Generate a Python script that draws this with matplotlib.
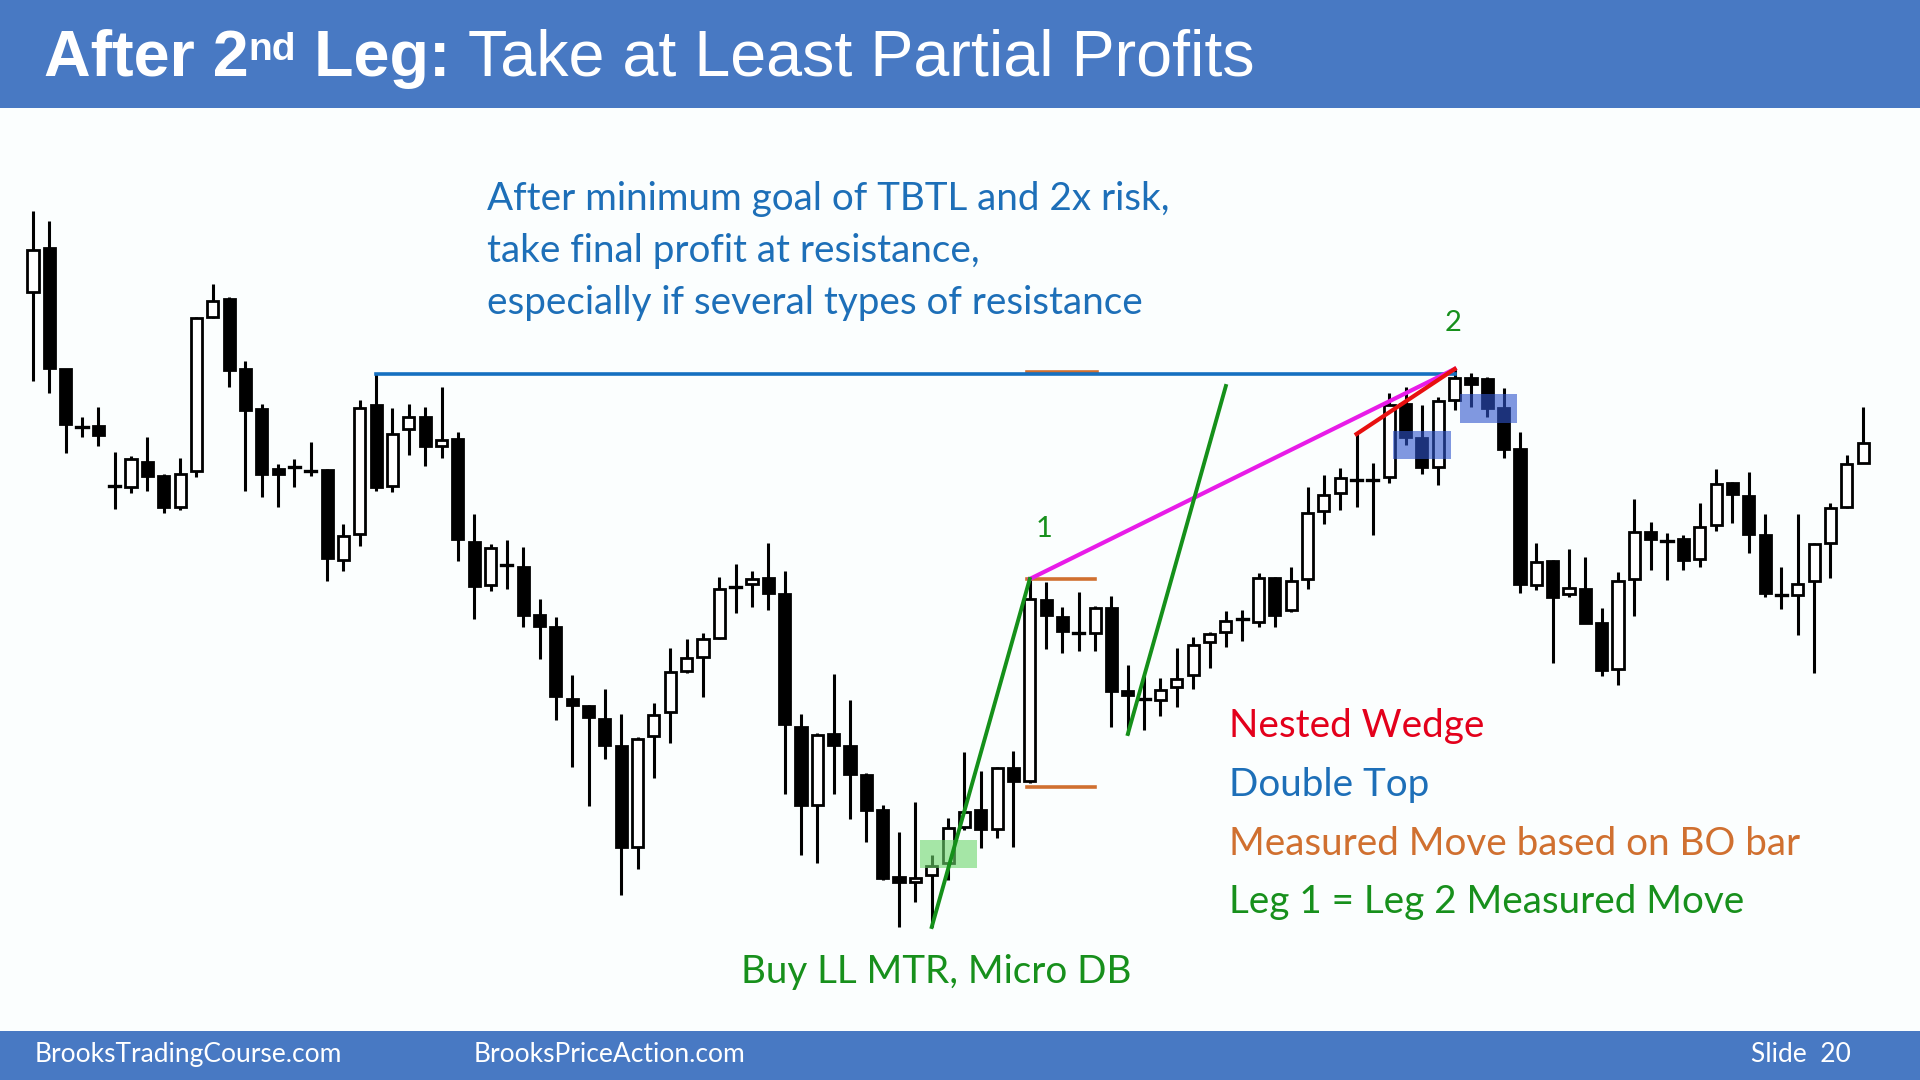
import matplotlib
matplotlib.use("Agg")
import matplotlib.pyplot as plt
from matplotlib.patches import Rectangle

# candle data (price units), one entry per bar, left to right
opens = [708, 752, 631, 573, 574, 514, 513, 538, 524, 493, 529, 683, 701, 631, 591, 531, 533, 529, 530, 440,
         466, 595, 514, 571, 583, 554, 561, 458, 415, 435, 433, 385, 373, 301, 294, 281, 254, 153, 264, 288,
         329, 343, 362, 413, 416, 422, 406, 273, 195, 266, 254, 225, 190, 123, 118, 125, 137, 173, 190, 171,
         232, 219, 400, 383, 367, 367, 392, 309, 301, 300, 313, 325, 358, 368, 381, 378, 422, 390, 421, 489,
         507, 520, 520, 523, 596, 562, 533, 600, 622, 621, 592, 551, 415, 439, 406, 411, 377, 331, 421, 468,
         459, 461, 441, 475, 517, 504, 465, 405, 405, 419, 457, 493, 537]
closes = [750, 632, 576, 573, 565, 514, 541, 524, 493, 526, 682, 699, 630, 590, 526, 526, 533, 529, 442, 464,
          592, 513, 566, 583, 554, 560, 461, 414, 452, 435, 385, 374, 304, 295, 283, 255, 153, 261, 285, 328,
          342, 361, 411, 413, 421, 407, 276, 195, 265, 255, 226, 190, 122, 118, 122, 134, 172, 188, 171, 232,
          219, 401, 385, 369, 367, 392, 309, 305, 301, 310, 321, 355, 366, 379, 381, 422, 385, 419, 487, 505,
          522, 520, 520, 595, 563, 533, 599, 622, 616, 592, 551, 416, 438, 403, 412, 377, 330, 419, 468, 461,
          459, 440, 473, 516, 506, 466, 407, 405, 416, 456, 492, 536, 557]
highs = [789, 779, 631, 583, 593, 548, 544, 563, 526, 542, 683, 716, 703, 639, 596, 536, 541, 558, 531, 476,
         600, 626, 592, 596, 593, 613, 568, 486, 456, 460, 453, 401, 383, 325, 295, 311, 286, 263, 297, 352,
         361, 367, 423, 436, 429, 457, 429, 286, 267, 326, 300, 227, 195, 168, 198, 145, 182, 248, 229, 233,
         249, 421, 418, 393, 408, 394, 404, 335, 325, 322, 352, 363, 368, 389, 390, 427, 423, 433, 513, 525,
         532, 566, 537, 607, 613, 595, 603, 631, 627, 623, 612, 568, 457, 440, 451, 443, 392, 428, 501, 478,
         467, 465, 497, 531, 518, 528, 486, 433, 486, 457, 497, 545, 593]
lows = [619, 607, 547, 563, 554, 491, 507, 509, 487, 490, 523, 682, 613, 509, 503, 493, 513, 524, 419, 429,
        454, 509, 508, 545, 534, 542, 439, 381, 409, 411, 373, 341, 280, 233, 194, 241, 105, 131, 222, 257,
        327, 303, 361, 387, 393, 390, 206, 145, 137, 206, 181, 158, 120, 73, 98, 73, 120, 170, 152, 162,
        153, 217, 351, 347, 349, 349, 273, 266, 270, 284, 293, 311, 332, 353, 359, 373, 373, 388, 411, 476,
        490, 493, 465, 517, 555, 526, 515, 590, 593, 583, 542, 407, 410, 337, 403, 377, 324, 315, 384, 430,
        420, 430, 433, 469, 477, 447, 403, 391, 365, 327, 422, 492, 537]
doji_bars = [3, 5, 16, 17, 29, 43, 64, 68, 74, 81, 82, 100, 107]

# annotation levels
double_top_bars = (21, 87)
bo_bar = 61
leg1_start = 55
leg2_start = 67
wedge_start = 81
mm_target = 628
bo_low_line = 213
green_zone = (54.3, 57.8, 132, 160)
blue_zones = [(83.2, 86.8, 541, 569), (87.3, 90.8, 577, 606)]

BLUE_TXT = "#1D6FB8"
RED = "#E3001B"
ORANGE = "#D07030"
GREEN = "#17901C"
BAR_BLUE = "#4879C3"
FS = 27.8

fig = plt.figure(figsize=(19.2, 10.8), dpi=100)
fig.patch.set_facecolor("#FBFEFE")
ax = fig.add_axes([0, 0, 1, 1])
ax.set_zorder(2)
ax.set_xlim(-2.02, 115.48)
ax.set_ylim(-80, 1000)
ax.axis("off")

w = 0.68
for i in range(len(opens)):
    o, c, h, l = opens[i], closes[i], highs[i], lows[i]
    ax.plot([i, i], [l, h], color="black", lw=2.2, solid_capstyle="butt", zorder=2)
    if i in doji_bars:
        ax.plot([i - w / 2, i + w / 2], [o, o], color="black", lw=2.4, zorder=3)
    else:
        fc = "white" if c > o else "black"
        ax.add_patch(Rectangle((i - w / 2, min(o, c)), w, abs(c - o), facecolor=fc,
                               edgecolor="black", lw=2.0, zorder=3))

# shaded zones
gx0, gx1, gy0, gy1 = green_zone
ax.add_patch(Rectangle((gx0, gy0), gx1 - gx0, gy1 - gy0, facecolor="#6CD66C", alpha=0.6,
                       lw=0, zorder=4))
for bx0, bx1, by0, by1 in blue_zones:
    ax.add_patch(Rectangle((bx0, by0), bx1 - bx0, by1 - by0, facecolor="#2F55CC", alpha=0.6,
                           lw=0, zorder=4))

# double top line
a, b = double_top_bars
ax.plot([a, b], [highs[a], highs[a]], color="#1570C0", lw=2.6, zorder=5)

# measured move based on BO bar
ax.plot([bo_bar - 0.2, bo_bar + 4.1], [mm_target, mm_target], color=ORANGE, lw=2.6, zorder=4)
ax.plot([bo_bar - 0.2, bo_bar + 4.0], [highs[bo_bar], highs[bo_bar]], color=ORANGE, lw=2.6, zorder=5)
ax.plot([bo_bar - 0.2, bo_bar + 4.0], [bo_low_line, bo_low_line], color=ORANGE, lw=2.6, zorder=5)

# wedge lines
ax.plot([bo_bar, b], [highs[bo_bar], highs[b]], color="#E81CE8", lw=3.0, zorder=6)
ax.plot([wedge_start, b], [highs[wedge_start], highs[b]], color="#E81010", lw=3.0, zorder=6)

# leg 1 = leg 2
leg_dx = bo_bar - leg1_start
leg_dy = highs[bo_bar] - lows[leg1_start]
ax.plot([leg1_start, bo_bar], [lows[leg1_start], highs[bo_bar]], color="#15901A", lw=2.8, zorder=6)
ax.plot([leg2_start, leg2_start + leg_dx], [lows[leg2_start], lows[leg2_start] + leg_dy],
        color="#15901A", lw=2.8, zorder=6)

ax.text(bo_bar + 0.9, highs[bo_bar] + 50, "1", color=GREEN, fontsize=21, family="Lato",
        ha="center", va="center")
ax.text(b - 0.1, highs[b] + 46, "2", color=GREEN, fontsize=21, family="Lato",
        ha="center", va="center")

# text blocks
top_lines = ["After minimum goal of TBTL and 2x risk,",
             "take final profit at resistance,",
             "especially if several types of resistance"]
for k, s in enumerate(top_lines):
    fig.text(0.2536, 0.8153 - k * 0.0477, s, color=BLUE_TXT, fontsize=FS, family="Lato",
             va="center", ha="left")

legend_lines = [("Nested Wedge", RED), ("Double Top", BLUE_TXT),
                ("Measured Move based on BO bar", ORANGE), ("Leg 1 = Leg 2 Measured Move", GREEN)]
for k, (s, col) in enumerate(legend_lines):
    fig.text(0.640, 0.3274 - k * 0.0543, s, color=col, fontsize=FS, family="Lato",
             va="center", ha="left")

fig.text(0.4875, 0.1, "Buy LL MTR, Micro DB", color=GREEN, fontsize=FS, family="Lato",
         ha="center", va="center")

# title bar
fig.add_artist(Rectangle((0, 0.9), 1, 0.1, transform=fig.transFigure, facecolor=BAR_BLUE, lw=0))
base_y = 0.93
t1 = ax.text(0.0229, base_y, "After 2", transform=fig.transFigure, color="white", fontsize=46.5,
             family="Liberation Sans", weight="bold", va="baseline")
t2 = ax.annotate("nd", xy=(1, 0.95), xycoords=t1, color="white", fontsize=28,
                 family="Liberation Sans", weight="bold", va="top", ha="left")
t3 = ax.annotate(" Leg:", xy=(1, base_y), xycoords=(t2, "figure fraction"), color="white",
                 fontsize=46.5, family="Liberation Sans", weight="bold", va="baseline", ha="left")
ax.annotate(" Take at Least Partial Profits", xy=(1, base_y), xycoords=(t3, "figure fraction"),
            color="white", fontsize=46.5, family="Liberation Sans", va="baseline", ha="left")

# footer bar
fig.add_artist(Rectangle((0, 0), 1, 0.0454, transform=fig.transFigure, facecolor=BAR_BLUE, lw=0))
fig.text(0.0182, 0.024, "BrooksTradingCourse.com", color="white", fontsize=19, family="Lato",
         va="center", zorder=5)
fig.text(0.2469, 0.024, "BrooksPriceAction.com", color="white", fontsize=19, family="Lato",
         va="center", zorder=5)
fig.text(0.964, 0.024, "Slide  20", color="white", fontsize=19, family="Lato",
         va="center", ha="right", zorder=5)

fig.savefig("out.png", dpi=100, facecolor=fig.get_facecolor())
